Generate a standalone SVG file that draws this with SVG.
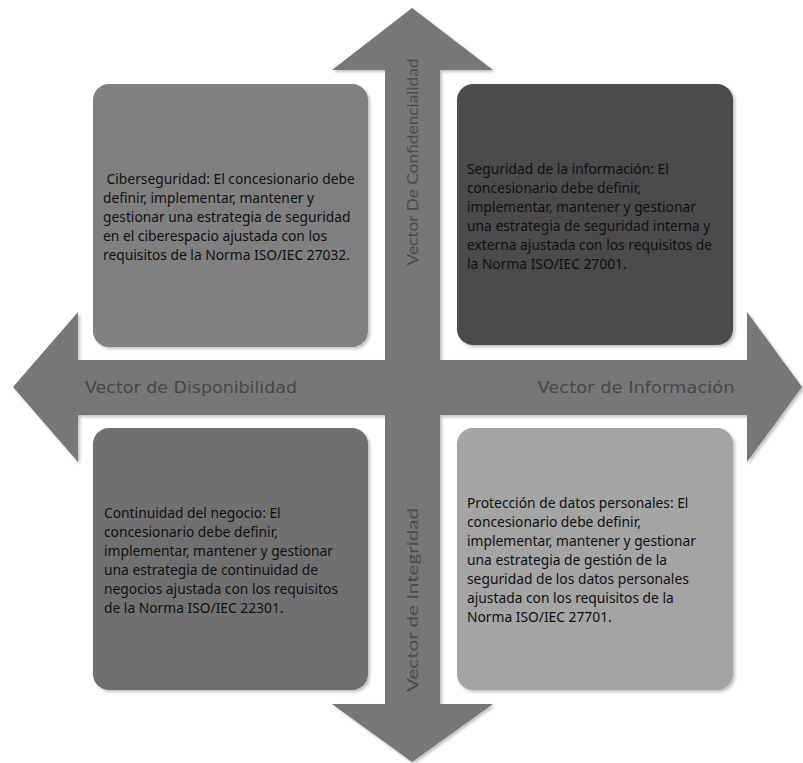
<svg xmlns="http://www.w3.org/2000/svg" width="803" height="763" viewBox="0 0 803 763">
<style>
.box{stroke:none}
.t{font-family:"Noto Sans","Open Sans","Liberation Sans",sans-serif;font-size:13.8px;fill:#111}
.vh{font-family:"DejaVu Sans","Liberation Sans",sans-serif;font-size:15px;fill:#474747}
.vv{font-family:"Lato","Liberation Sans",sans-serif;font-weight:400;font-size:16px;fill:#4c4c4c}
</style>
<defs>
<filter id="sh" x="-10%" y="-10%" width="120%" height="120%">
<feDropShadow dx="2" dy="2" stdDeviation="1.5" flood-color="#000" flood-opacity="0.25"/>
</filter>
</defs>
<rect width="803" height="763" fill="#fff"/>
<g id="connectors">
<path d="M412,8 L493,70 L440,70 L440,360 L747,360 L747,312 L802,387 L747,462 L747,415 L440,415 L440,704 L493,704 L412,762 L332,704 L385,704 L385,415 L78,415 L78,462 L13,387 L78,312 L78,360 L385,360 L385,70 L332,70 Z" fill="#777" filter="url(#sh)"/>
<text class="vh" x="191" y="393" text-anchor="middle" textLength="212" lengthAdjust="spacingAndGlyphs">Vector de Disponibilidad</text>
<text class="vh" x="636" y="393" text-anchor="middle" textLength="197" lengthAdjust="spacingAndGlyphs">Vector de Información</text>
<text class="vv" transform="translate(418,162) rotate(-90)" text-anchor="middle" textLength="207" lengthAdjust="spacingAndGlyphs">Vector De Confidencialidad</text>
<text class="vv" transform="translate(418,600) rotate(-90)" text-anchor="middle" textLength="184" lengthAdjust="spacingAndGlyphs">Vector de Integridad</text>
</g>
<g id="ciberseguridad">
<rect class="box" x="93" y="84" width="275" height="263" rx="16" fill="#808080" filter="url(#sh)"/>
<text class="t" xml:space="preserve">
<tspan x="103" y="184"> Ciberseguridad: El concesionario debe</tspan>
<tspan x="103" y="203">definir, implementar, mantener y</tspan>
<tspan x="103" y="222">gestionar una estrategia de seguridad</tspan>
<tspan x="103" y="241">en el ciberespacio ajustada con los</tspan>
<tspan x="103" y="260">requisitos de la Norma ISO/IEC 27032.</tspan>
</text>
</g>
<g id="seguridad-informacion">
<rect class="box" x="457" y="84" width="276" height="261" rx="16" fill="#4b4b4b" filter="url(#sh)"/>
<text class="t">
<tspan x="467" y="174">Seguridad de la información: El</tspan>
<tspan x="467" y="193">concesionario debe definir,</tspan>
<tspan x="467" y="212">implementar, mantener y gestionar</tspan>
<tspan x="467" y="231">una estrategia de seguridad interna y</tspan>
<tspan x="467" y="250">externa ajustada con los requisitos de</tspan>
<tspan x="467" y="269">la Norma ISO/IEC 27001.</tspan>
</text>
</g>
<g id="continuidad-negocio">
<rect class="box" x="93" y="428" width="275" height="262" rx="16" fill="#707070" filter="url(#sh)"/>
<text class="t">
<tspan x="104" y="518">Continuidad del negocio: El</tspan>
<tspan x="104" y="537">concesionario debe definir,</tspan>
<tspan x="104" y="556">implementar, mantener y gestionar</tspan>
<tspan x="104" y="575">una estrategia de continuidad de</tspan>
<tspan x="104" y="594">negocios ajustada con los requisitos</tspan>
<tspan x="104" y="613">de la Norma ISO/IEC 22301.</tspan>
</text>
</g>
<g id="proteccion-datos">
<rect class="box" x="457" y="428" width="276" height="262" rx="16" fill="#a4a4a4" filter="url(#sh)"/>
<text class="t">
<tspan x="467" y="508">Protección de datos personales: El</tspan>
<tspan x="467" y="527">concesionario debe definir,</tspan>
<tspan x="467" y="546">implementar, mantener y gestionar</tspan>
<tspan x="467" y="565">una estrategia de gestión de la</tspan>
<tspan x="467" y="584">seguridad de los datos personales</tspan>
<tspan x="467" y="603">ajustada con los requisitos de la</tspan>
<tspan x="467" y="622">Norma ISO/IEC 27701.</tspan>
</text>
</g>
</svg>
